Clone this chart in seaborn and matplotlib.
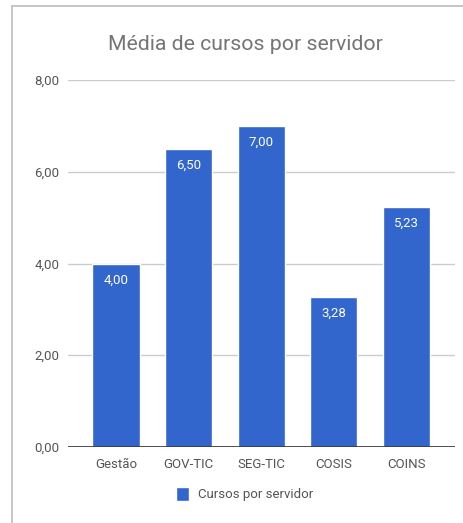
import pandas as pd
import seaborn as sns
import matplotlib.pyplot as plt
from matplotlib.patches import Patch
from matplotlib.lines import Line2D
from matplotlib.ticker import FuncFormatter

### DATA
setores = ["Gestão", "GOV-TIC", "SEG-TIC", "COSIS", "COINS"]
media_cursos = [4.00, 6.50, 7.00, 3.28, 5.23]
serie = "Cursos por servidor"

azul = "#3366CC"
cinza_texto = "#757575"

sns.set_style("white")
plt.rcParams['font.family'] = ['Roboto', 'DejaVu Sans']

df = pd.DataFrame({"setor": setores, "media": media_cursos})

fig = plt.figure(figsize=(4.63, 5.23), dpi=100)
ax = fig.add_axes([68 / 463, 1 - 447 / 523, 387 / 463, 367 / 523])

sns.barplot(data=df, x="setor", y="media", color=azul, width=0.65,
            saturation=1, ax=ax, zorder=3)

ax.set_ylim(0, 8)
ax.set_xlim(-0.66, 4.67)
ax.set_yticks([0, 2, 4, 6, 8])
ax.yaxis.set_major_formatter(FuncFormatter(lambda v, p: f"{v:.2f}".replace(".", ",")))
ax.grid(axis="y", color="#cccccc", linewidth=1, zorder=0)
ax.axhline(0, color="#333333", linewidth=1.2, zorder=4)
for s in ax.spines.values():
    s.set_visible(False)
ax.tick_params(axis="both", length=0, labelsize=9.5, labelcolor="#555555", pad=6)
ax.tick_params(axis="x", pad=8)
ax.set_xlabel("")
ax.set_ylabel("")

# rotulos dentro das barras
for i, v in enumerate(media_cursos):
    ax.annotate(f"{v:.2f}".replace(".", ","), (i, v), xytext=(0, -12),
                textcoords="offset points", ha="center", va="center",
                color="white", fontsize=9.5, zorder=5)

fig.text(245 / 463, 1 - 44 / 523, "Média de cursos por servidor",
         ha="center", va="center", fontsize=15.3, color=cinza_texto)

fig.legend(handles=[Patch(facecolor=azul, label=serie)], loc="center",
           bbox_to_anchor=(245 / 463, 1 - 494 / 523), frameon=False,
           fontsize=9.5, handlelength=0.95, handleheight=1.35, handletextpad=0.7,
           labelcolor="#555555")

# moldura
fig.add_artist(Line2D([12 / 463, 1], [1 - 6 / 523, 1 - 6 / 523], color="#bbbbbb", linewidth=1.2))
fig.add_artist(Line2D([12 / 463, 12 / 463], [0, 1 - 6 / 523], color="#bbbbbb", linewidth=1.2))

fig.savefig("out.png", dpi=100)
